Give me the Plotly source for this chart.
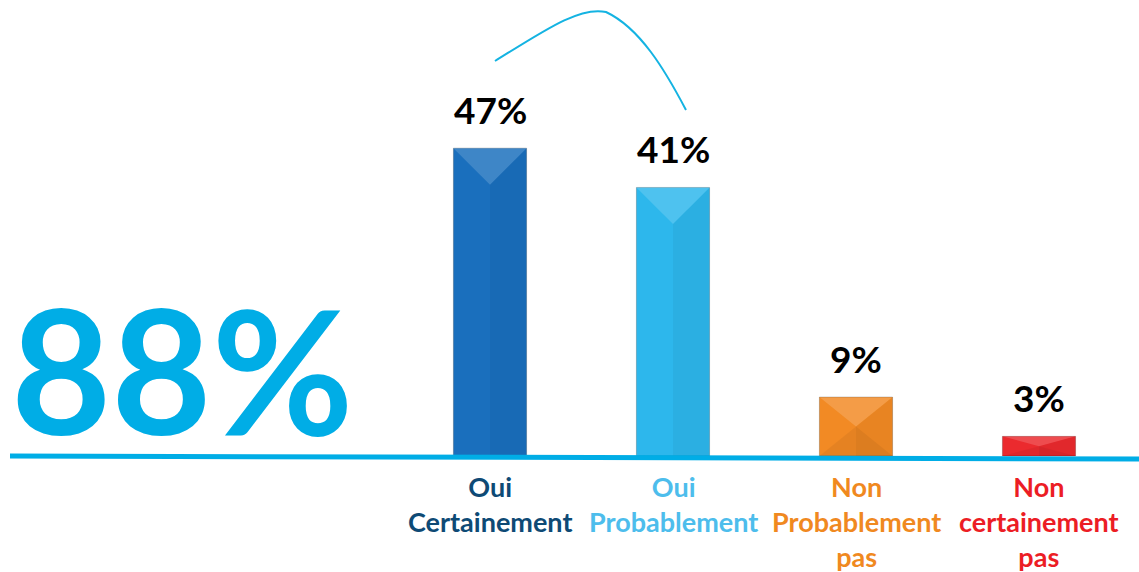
import plotly.graph_objects as go

# ==========================================
# DATA
# ==========================================

categories = ["Oui<br>Certainement", "Oui<br>Probablement",
              "Non<br>Probablement<br>pas", "Non<br>certainement<br>pas"]
values = [47, 41, 9, 3]
value_labels = ["47%", "41%", "9%", "3%"]
total_label = "88%"

bar_colors = ["#1a6fbd", "#2db7ec", "#f28a24", "#eb2a2e"]
label_colors = ["#0e4a75", "#4dbdec", "#f0891f", "#ec1d25"]

W, H = 1139, 572
PX_PER_PCT = 6.55
BASE_PX = 456
FIRST_PX, STEP_PX = 490, 183
BAR_W = 0.40


def px(x, y):
    # pixel position -> paper coords (figure has no margins)
    return x / W, 1 - y / H


fig = go.Figure()

fig.add_trace(
    go.Bar(
        x=list(range(len(values))),
        y=values,
        width=BAR_W,
        marker=dict(
            color=bar_colors,
            line=dict(color="rgba(0,0,0,0.2)", width=1)
        ),
        hoverinfo="skip"
    )
)

# bevel look on each bar (computed from the data)
half = BAR_W / 2
bevel = half * STEP_PX / PX_PER_PCT   # half bar width expressed in % units
for i, v in enumerate(values):
    d = min(bevel, v / 2)
    fig.add_shape(
        type="path",
        path=f"M {i-half},{v} L {i+half},{v} L {i},{v-d} Z",
        fillcolor="rgba(255,255,255,0.16)", line=dict(width=0),
        xref="x", yref="y"
    )
    fig.add_shape(
        type="path",
        path=f"M {i+half},{v} L {i},{v-d} L {i},{0} L {i+half},{0} Z",
        fillcolor="rgba(0,0,0,0.04)", line=dict(width=0),
        xref="x", yref="y"
    )
    if v / 2 < bevel:
        fig.add_shape(
            type="path",
            path=f"M {i-half},{0} L {i+half},{0} L {i},{d} Z",
            fillcolor="rgba(0,0,0,0.05)", line=dict(width=0),
            xref="x", yref="y"
        )

# value labels
for i, (v, t) in enumerate(zip(values, value_labels)):
    fig.add_annotation(
        x=i, y=v, text=t, showarrow=False,
        yanchor="bottom", yshift=14,
        font=dict(family="Lato", size=37, color="black", weight="bold")
    )

# category labels
for i, (c, col) in enumerate(zip(categories, label_colors)):
    fig.add_annotation(
        x=i, y=0, text=c, showarrow=False,
        yanchor="top", yshift=-12,
        font=dict(family="Lato", size=27, color=col, weight="bold")
    )

# big total
cx, cy = px(182, 368)
fig.add_annotation(
    x=cx, y=cy, xref="paper", yref="paper", text=total_label,
    showarrow=False, xanchor="center", yanchor="middle",
    font=dict(family="Lato", size=173, color="#00ade6", weight="bold")
)

# baseline
x0, y0 = px(10, 456)
x1, y1 = px(1139, 459)
fig.add_shape(type="line", x0=x0, y0=y0, x1=x1, y1=y1,
              xref="paper", yref="paper",
              line=dict(color="#00ade6", width=5))

# arc linking the two "oui" bars
pts = [(495, 61), (545, 30), (580, 6), (606, 12),
       (640, 28), (665, 70), (686, 110)]
p = [px(*q) for q in pts]
path = (f"M {p[0][0]},{p[0][1]} C {p[1][0]},{p[1][1]} {p[2][0]},{p[2][1]} {p[3][0]},{p[3][1]} "
        f"C {p[4][0]},{p[4][1]} {p[5][0]},{p[5][1]} {p[6][0]},{p[6][1]}")
fig.add_shape(type="path", path=path, xref="paper", yref="paper",
              line=dict(color="#14b3e2", width=2))

fig.update_layout(
    width=W, height=H,
    margin=dict(l=0, r=0, t=0, b=0),
    paper_bgcolor="white",
    plot_bgcolor="white",
    showlegend=False,
    xaxis=dict(
        range=[-FIRST_PX / STEP_PX, (W - FIRST_PX) / STEP_PX],
        visible=False
    ),
    yaxis=dict(
        range=[-(H - BASE_PX) / PX_PER_PCT, BASE_PX / PX_PER_PCT],
        visible=False
    ),
    font=dict(family="Lato")
)

fig.write_html("out.html", config={"displayModeBar": False},
               post_script="document.body.style.margin='0';")
